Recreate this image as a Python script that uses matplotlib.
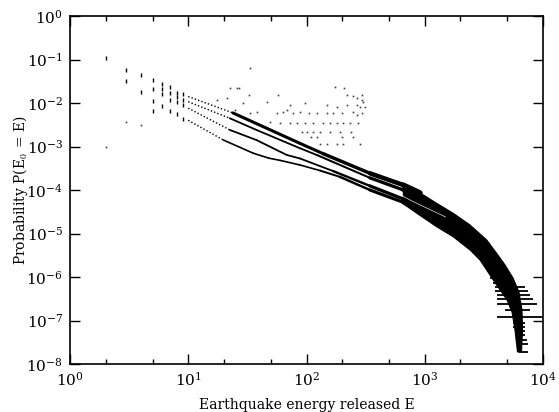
import numpy as np
import matplotlib.pyplot as plt
from matplotlib.ticker import LogLocator, NullLocator

plt.rcParams['font.family'] = ['DejaVu Serif']
plt.rcParams['mathtext.fontset'] = 'cm'

# small energies: separate points for the four runs
E_int = [2, 3, 4, 5, 6, 7, 8, 9]
p1_int = [0.107, 0.057, 0.044, 0.034, 0.028, 0.023, 0.017, 0.0157]
p2_int = [np.nan, 0.032, 0.018, 0.021, 0.021, 0.017, 0.014, 0.0117]
p3_int = [np.nan, np.nan, np.nan, 0.011, 0.016, 0.012, 0.0107, 0.009]
p4_int = [np.nan, np.nan, np.nan, 0.0066, 0.0085, 0.0066, 0.0056, 0.0043]

# the four curves from E = 10 on
E1 = [10, 23.9, 88.1, 139, 344, 659, 912]
P1 = [0.0141, 5.9e-3, 1.18e-3, 6.8e-4, 2.42e-4, 1.30e-4, 8.6e-5]
E2 = [10, 22.5, 37.9, 88.1, 122, 344, 659, 912]
P2 = [0.0107, 4.45e-3, 2.39e-3, 9.1e-4, 6.4e-4, 1.9e-4, 1.0e-4, 6.6e-5]
E3 = [10, 22.5, 37.9, 68, 88.1, 167.5, 344, 659, 912]
P3 = [0.0076, 2.4e-3, 1.4e-3, 6.4e-4, 5.3e-4, 2.73e-4, 1.24e-4, 6.2e-5, 4.2e-5]
E4 = [10, 19.8, 35.5, 48, 59.7, 88.1, 130, 192, 344, 659, 912]
P4 = [4.0e-3, 1.41e-3, 7.0e-4, 5.4e-4, 4.8e-4, 3.76e-4, 2.8e-4, 2.0e-4, 1.0e-4, 5.2e-5, 3.4e-5]

# where the curves merge into one noisy band (outline)
band_E = [659, 912, 1261, 1743, 2414, 3342, 4056, 4774, 5575, 6266, 6640, 6710, 6580,
          6085, 5795, 5470, 4964, 3800, 2933, 2414, 1743, 1261, 912, 659]
band_P = [1.25e-4, 8.6e-5, 4.94e-5, 2.91e-5, 1.57e-5, 7.1e-6, 3.5e-6, 1.89e-6, 9.5e-7,
          4.5e-7, 1.74e-7, 6.05e-8, 1.89e-8,
          1.89e-8, 6.05e-8, 1.57e-7, 2.96e-7, 8.5e-7, 2.46e-6, 4.18e-6, 8.4e-6, 1.43e-5,
          2.6e-5, 4.8e-5]

# thin empty gap left inside the band between the two upper runs
gap_E = [600, 771, 1500]
gap_P = [8.3e-5, 5.65e-5, 2.4e-5]

# horizontal runs of points at the lowest probabilities
dash_P = [9.3e-7, 7.3e-7, 5.9e-7, 4.8e-7, 3.86e-7, 3.04e-7, 2.39e-7, 1.74e-7, 1.2e-7,
          8.9e-8, 7.2e-8, 5.7e-8, 4.6e-8, 3.56e-8, 2.88e-8, 1.92e-8]
dash_E0 = [3563, 3780, 3940, 3940, 4100, 4100, 4100, 4774, 4100,
           5575, 5575, 5795, 5795, 6030, 6030, 6270]
dash_E1 = [5260, 5795, 7044, 7490, 7762, 8260, 8950, 7762, 10000,
           7044, 7044, 7044, 7044, 7280, 7490, 7490]

# sparse run (few events)
sparse_E = [2, 3, 4, 17.4, 21.1, 22.5, 25.6, 24.9, 33,
            27.0, 32.9, 57.8, 174, 209, 219, 249, 266, 293, 303, 293,
            29.2, 46.1, 72.5, 97.1, 148, 180, 219, 266, 312, 283,
            37.9, 56.0, 63.7, 68.0, 77.4, 88.1, 104, 122, 148, 169, 199, 249, 266, 293, 33.3,
            49.1,
            59.7, 72.5, 82.6, 97.1, 114, 139, 158, 180, 205, 233, 274,
            90.9, 100, 114, 130, 158, 192, 240,
            110, 122, 199, 249,
            130, 148, 180, 205, 283]
sparse_P = [1.0e-3, 3.6e-3, 3.1e-3, 1.18e-2, 1.28e-2, 2.18e-2, 2.18e-2, 6.9e-3, 6.3e-2,
            2.18e-2, 1.53e-2, 1.53e-2, 2.37e-2, 2.18e-2, 1.53e-2, 1.45e-2, 1.28e-2, 1.18e-2, 1.07e-2, 1.53e-2,
            9.8e-3, 1.07e-2, 9.0e-3, 9.8e-3, 9.0e-3, 8.3e-3, 9.0e-3, 9.0e-3, 8.3e-3, 8.3e-3,
            6.3e-3, 5.8e-3, 6.3e-3, 6.9e-3, 6.0e-3, 6.3e-3, 5.8e-3, 5.8e-3, 5.8e-3, 5.8e-3, 5.8e-3, 6.3e-3, 5.3e-3, 6.0e-3, 5.8e-3,
            3.7e-3,
            3.4e-3, 3.4e-3, 3.4e-3, 3.4e-3, 3.4e-3, 3.4e-3, 3.4e-3, 3.4e-3, 3.4e-3, 3.4e-3, 3.4e-3,
            2.2e-3, 2.2e-3, 2.2e-3, 2.2e-3, 2.2e-3, 2.2e-3, 2.2e-3,
            1.68e-3, 1.68e-3, 1.68e-3, 1.68e-3,
            1.12e-3, 1.12e-3, 1.12e-3, 1.12e-3, 1.12e-3]

fig = plt.figure(figsize=(5.59, 4.12), dpi=100)
ax = fig.add_axes([70/559, 48/412, 473/559, 348/412])
ax.set_xscale('log')
ax.set_yscale('log')

for p in [p1_int, p2_int, p3_int, p4_int]:
    ax.plot(E_int, p, ls='none', marker='|', ms=3.5, mew=1.0, color='k')

widths = [2.2, 1.3, 1.3, 1.2]
for E, P, w in zip([E1, E2, E3, E4], [P1, P2, P3, P4], widths):
    # first part still looks like separate dots
    ax.plot(E[:2], P[:2], color='k', lw=1.0, ls=(0, (1, 1.5)))
    # the scatter widens the curves at larger energies
    for i in range(1, len(E) - 1):
        t = np.clip(np.log10(E[i] / 100) / np.log10(6.6), 0, 1)
        ax.plot(E[i:i + 2], P[i:i + 2], color='k', lw=w + 1.6 * t,
                solid_capstyle='round')

ax.fill(band_E, band_P, color='k', lw=0.8)
ax.plot(gap_E, gap_P, color='white', lw=0.45)
ax.hlines(dash_P, dash_E0, dash_E1, color='k', lw=1.3)

ax.plot(sparse_E, sparse_P, ls='none', marker='s', ms=1.2, mew=0, color='0.25')

ax.set_xlim(1, 1e4)
ax.set_ylim(1e-8, 1)
ax.xaxis.set_major_locator(LogLocator(base=10, numticks=10))
ax.xaxis.set_minor_locator(LogLocator(base=10, subs=(2, 5), numticks=10))
ax.yaxis.set_major_locator(LogLocator(base=10, numticks=12))
ax.yaxis.set_minor_locator(NullLocator())
ax.tick_params(which='both', direction='in', top=True, right=True, width=1.0,
               labelsize=11, pad=5)
ax.tick_params(which='minor', labelbottom=False)
ax.tick_params(which='major', length=7)
ax.tick_params(which='minor', length=3.5)
for s in ax.spines.values():
    s.set_linewidth(1.2)

ax.set_xlabel('Earthquake energy released E', fontsize=10)
ax.set_ylabel('Probability P(E$_0$ = E)', fontsize=10)
ax.xaxis.set_label_coords(0.5, -0.098)
ax.yaxis.set_label_coords(-0.085, 0.5)

fig.savefig('out.png', dpi=100)
